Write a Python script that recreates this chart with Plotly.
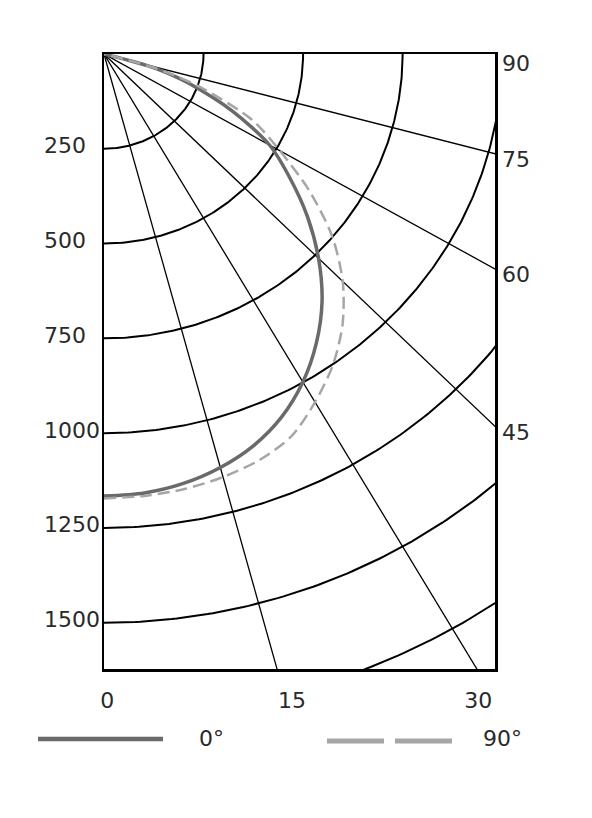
import numpy as np
import plotly.graph_objects as go

# ---- data ----
angles_deg = [0, 5, 10, 15, 20, 25, 30, 35, 40, 45, 50, 55, 60, 65, 70, 72, 74, 75, 76]
intensity_c0 = [1166, 1162, 1150, 1129, 1099, 1056, 999, 930, 852, 762, 667, 570, 480, 355, 228, 180, 125, 60, 0]
intensity_c90 = [1172, 1170, 1165, 1155, 1140, 1113, 1060, 1002, 932, 848, 748, 630, 510, 410, 262, 195, 125, 60, 0]

circle_radii = [250, 500, 750, 1000, 1250, 1500, 1750]
radial_angles = [15, 30, 45, 60, 75]
left_tick_values = [250, 500, 750, 1000, 1250, 1500]
bottom_tick_labels = ["0", "15", "30"]
right_tick_angles = [90, 75, 60, 45]
legend_labels = ["0°", "90°"]

# ---- layout constants ----
OFF = 8  # page body margin
W, H = 576, 800
ML, MT = 96, 46
PLOT_W, PLOT_H = 391, 615
MR = W - ML - PLOT_W
MB = H - MT - PLOT_H
XMAX, YMAX = 982, 1622
bottom_tick_pos = [8, 472, 940]
FONT = "DejaVu Sans"
FS = 22
TXT = "#2a2a2a"
C0_COLOR = "#6a6a6a"
C90_COLOR = "#a6a6a6"

fig = go.Figure()

# grid circles
t = np.radians(np.linspace(0, 90, 181))
for r in circle_radii:
    fig.add_trace(go.Scatter(x=r * np.sin(t), y=r * np.cos(t), mode="lines",
                             line=dict(color="black", width=2), hoverinfo="skip",
                             showlegend=False))
# radial lines
for a in radial_angles:
    ar = np.radians(a)
    R = 4000
    fig.add_trace(go.Scatter(x=[0, R * np.sin(ar)], y=[0, R * np.cos(ar)], mode="lines",
                             line=dict(color="black", width=1.3), hoverinfo="skip",
                             showlegend=False))

# photometric curves
th = np.radians(angles_deg)
i0 = np.array(intensity_c0, dtype=float)
i90 = np.array(intensity_c90, dtype=float)
fig.add_trace(go.Scatter(x=i0 * np.sin(th), y=i0 * np.cos(th), mode="lines",
                         line=dict(color=C0_COLOR, width=3.5, shape="spline", smoothing=0.8),
                         name=legend_labels[0], showlegend=False, hoverinfo="skip"))
fig.add_trace(go.Scatter(x=i90 * np.sin(th), y=i90 * np.cos(th), mode="lines",
                         line=dict(color=C90_COLOR, width=2.5, dash="12px,6px",
                                   shape="spline", smoothing=0.8),
                         name=legend_labels[1], showlegend=False, hoverinfo="skip"))


def px_to_paper_x(px):
    return (px - OFF - ML) / PLOT_W


def py_to_paper_y(py):
    return (H - MB - (py - OFF)) / PLOT_H


annotations = []
# left intensity labels (left-aligned, as in the reference)
for v in left_tick_values:
    annotations.append(dict(x=px_to_paper_x(42), xref="paper", y=v, yref="y", text=str(v),
                            showarrow=False, xanchor="left", yanchor="middle", yshift=3,
                            font=dict(family=FONT, size=FS, color=TXT)))
# right-side angle labels
for a in right_tick_angles:
    if a >= 90:
        yv = 0.0
    else:
        yv = XMAX / np.tan(np.radians(a))
    annotations.append(dict(x=1, xref="paper", y=yv, yref="y", text=str(a),
                            showarrow=False, xanchor="left", yanchor="middle",
                            xshift=5, yshift=-6 if a < 90 else -9,
                            font=dict(family=FONT, size=FS, color=TXT)))

shapes = [
    dict(type="line", xref="paper", yref="paper",
         x0=px_to_paper_x(38), x1=px_to_paper_x(163),
         y0=py_to_paper_y(739), y1=py_to_paper_y(739),
         line=dict(color=C0_COLOR, width=4.5)),
    dict(type="line", xref="paper", yref="paper",
         x0=px_to_paper_x(327), x1=px_to_paper_x(452),
         y0=py_to_paper_y(741), y1=py_to_paper_y(741),
         line=dict(color=C90_COLOR, width=5, dash="57px,11px")),
]
annotations.append(dict(x=px_to_paper_x(197), xref="paper", y=py_to_paper_y(738), yref="paper",
                        text=legend_labels[0], showarrow=False, xanchor="left", yanchor="middle",
                        font=dict(family=FONT, size=FS, color=TXT)))
annotations.append(dict(x=px_to_paper_x(481), xref="paper", y=py_to_paper_y(738), yref="paper",
                        text=legend_labels[1], showarrow=False, xanchor="left", yanchor="middle",
                        font=dict(family=FONT, size=FS, color=TXT)))

fig.update_layout(
    width=W, height=H, autosize=False,
    margin=dict(l=ML, r=MR, t=MT, b=MB, pad=0),
    paper_bgcolor="white", plot_bgcolor="white",
    showlegend=False, hovermode=False,
    shapes=shapes, annotations=annotations,
    xaxis=dict(range=[0, XMAX], showgrid=False, zeroline=False,
               showline=True, mirror=True, linecolor="black", linewidth=2.5,
               tickmode="array", tickvals=bottom_tick_pos, ticktext=bottom_tick_labels,
               ticks="", ticklabelstandoff=10,
               tickfont=dict(family=FONT, size=FS, color=TXT), fixedrange=True),
    yaxis=dict(range=[YMAX, 0], showgrid=False, zeroline=False,
               showline=True, mirror=True, linecolor="black", linewidth=2.5,
               showticklabels=False, ticks="", fixedrange=True),
)

fig.write_html("out.html", config={"displayModeBar": False, "staticPlot": True})
